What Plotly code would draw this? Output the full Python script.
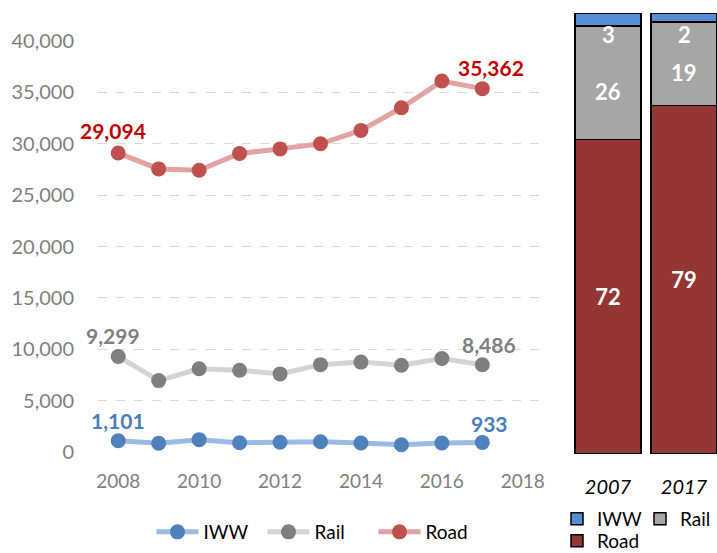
import plotly.graph_objects as go

# ---- data ----
years = [2008, 2009, 2010, 2011, 2012, 2013, 2014, 2015, 2016, 2017]
iww = [1101, 850, 1200, 900, 950, 1000, 880, 700, 880, 933]
rail = [9299, 6950, 8100, 7950, 7600, 8500, 8750, 8450, 9100, 8486]
road = [29094, 27550, 27420, 29050, 29500, 30000, 31300, 33500, 36100, 35362]

share_years = ["2007", "2017"]
share_iww = [3, 2]
share_rail = [26, 19]
share_road = [72, 79]

FONT = "Lato"
W, H = 717, 553

fig = go.Figure()

series = [
    ("IWW", iww, "#9CBBE2", "#4F81BD", "#4F81BD"),
    ("Rail", rail, "#D4D4D4", "#7F7F7F", "#7F7F7F"),
    ("Road", road, "#E2A3A2", "#C0504D", "#C00000"),
]
for name, vals, lc, mc, tc in series:
    fig.add_trace(go.Scatter(
        x=years, y=vals, name=name, mode="lines+markers",
        line=dict(color=lc, width=5),
        marker=dict(color=mc, size=15),
        xaxis="x", yaxis="y", legend="legend", cliponaxis=False,
    ))

# end-point labels
label_specs = [
    (iww, "#4A7EBB", (0, 20), (7, 19)),
    (rail, "#7F7F7F", (-5, 21), (7, 20)),
    (road, "#C00000", (-5, 23), (9, 21)),
]
annotations = []
for vals, col, s0, s1 in label_specs:
    for idx, sh in ((0, s0), (-1, s1)):
        annotations.append(dict(
            x=years[idx], y=vals[idx], xref="x", yref="y",
            text=f"{vals[idx]:,}", showarrow=False,
            xshift=sh[0], yshift=sh[1],
            font=dict(family=FONT, size=21, color=col, weight="bold"),
        ))

# stacked share bars (bottom to top: Road, Rail, IWW)
bar_specs = [
    ("Road", share_road, "#943634", "legend3"),
    ("Rail", share_rail, "#A6A6A6", "legend2"),
    ("IWW", share_iww, "#558ED5", "legend2"),
]
for name, vals, col, lg in bar_specs:
    fig.add_trace(go.Bar(
        x=share_years, y=vals, name=name,
        marker=dict(color=col, line=dict(color="#000000", width=1.5)),
        text=[str(v) for v in vals] if name == "Road" else None,
        textposition="inside", insidetextanchor="middle",
        textfont=dict(family=FONT, size=22, color="white", weight="bold"),
        textangle=0,
        xaxis="x2", yaxis="y2", legend=lg,
    ))

lbl_font = dict(family=FONT, size=22, color="white", weight="bold")
for i, (ri, ra, ro) in enumerate(zip(share_iww, share_rail, share_road)):
    tot = ri + ra + ro
    # IWW share label, near top of bar
    annotations.append(dict(
        x=i, y=100, xref="x2", yref="y2", text=str(ri), showarrow=False,
        yanchor="top", yshift=-6, font=lbl_font,
    ))
    # Rail share label, centre of rail segment
    annotations.append(dict(
        x=i, y=(ro + ra / 2) / tot * 100, xref="x2", yref="y2", text=str(ra),
        showarrow=False, yanchor="middle", yshift=-9, font=lbl_font,
    ))

fig.update_layout(
    width=W, height=H,
    margin=dict(l=0, r=0, t=0, b=0, autoexpand=False),
    paper_bgcolor="white", plot_bgcolor="white",
    font=dict(family=FONT, color="#000000"),
    barmode="stack", barnorm="percent", bargap=0.13,
    xaxis=dict(
        domain=[98 / W, 543 / W], range=[2007.5, 2018.5],
        tickvals=[2008, 2010, 2012, 2014, 2016, 2018],
        showgrid=False, zeroline=False, showline=False, ticks="",
        tickfont=dict(family=FONT, size=19, color="#7F7F7F"),
        ticklabelstandoff=16, anchor="y", automargin=False,
    ),
    yaxis=dict(
        domain=[1 - 452 / H, 1 - 41 / H], range=[0, 40000],
        dtick=5000, tickformat=",", showgrid=True,
        gridcolor="#D9D9D9", griddash="dash", gridwidth=1,
        zeroline=False, showline=False, ticks="",
        tickfont=dict(family=FONT, size=20, color="#7F7F7F"),
        ticklabelstandoff=23, anchor="x", automargin=False,
    ),
    xaxis2=dict(
        domain=[570 / W, 1.0], range=[-0.5, 1.434], type="category",
        showgrid=False, zeroline=False, showline=False, ticks="",
        tickfont=dict(family=FONT, size=20, color="#000000", style="italic"),
        ticklabelstandoff=19, anchor="y2", automargin=False,
    ),
    yaxis2=dict(
        domain=[1 - 454 / H, 1 - 13 / H], range=[0, 100],
        visible=False, anchor="x2",
    ),
    legend=dict(
        orientation="h", x=318 / W, xanchor="center", y=1 - 532 / H, yanchor="middle",
        font=dict(family=FONT, size=19, color="#000000"),
        bgcolor="rgba(0,0,0,0)", itemwidth=42, entrywidth=54, entrywidthmode="pixels",
    ),
    legend2=dict(
        orientation="h", x=557 / W, xanchor="left", y=1 - 500 / H, yanchor="top",
        font=dict(family=FONT, size=19, color="#000000"), traceorder="reversed",
        bgcolor="rgba(0,0,0,0)", entrywidth=38, entrywidthmode="pixels",
    ),
    legend3=dict(
        orientation="h", x=557 / W, xanchor="left", y=1 - 522 / H, yanchor="top",
        font=dict(family=FONT, size=19, color="#000000"),
        bgcolor="rgba(0,0,0,0)",
    ),
    annotations=annotations,
    showlegend=True,
)

fig.write_html(
    "out.html",
    config={"displayModeBar": False},
    post_script="document.body.style.margin='0';document.body.style.overflow='hidden';",
)
